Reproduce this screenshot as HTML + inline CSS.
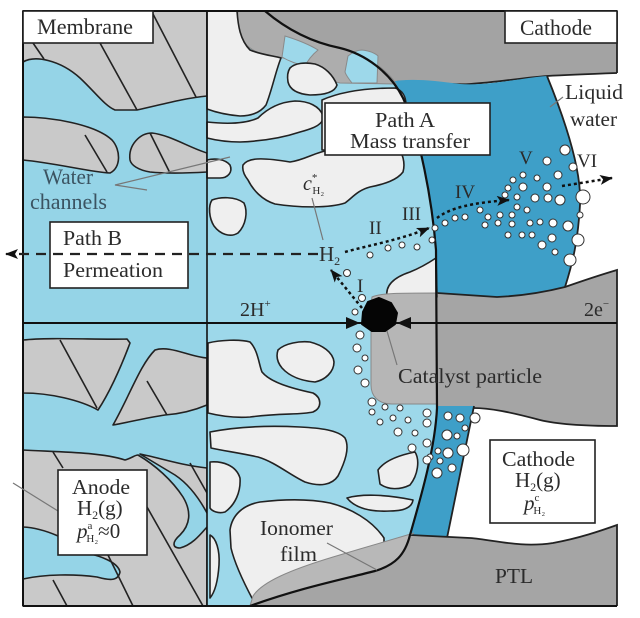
<!DOCTYPE html>
<html><head><meta charset="utf-8"><style>
html,body{margin:0;padding:0;background:#fff;}
svg{display:block;}
text{font-family:"Liberation Serif",serif;fill:#2b2b2b;}
</style></head><body>
<svg width="640" height="618" viewBox="0 0 640 618" xmlns="http://www.w3.org/2000/svg">
<defs>
<marker id="ah" markerWidth="13" markerHeight="10" refX="12" refY="5" orient="auto" markerUnits="userSpaceOnUse"><path d="M0,0 L13,5 L0,10 L3,5 Z" fill="#111"/></marker>
</defs>
<rect width="640" height="618" fill="#fff"/>

<!-- Membrane -->
<rect x="23" y="11" width="184" height="595" fill="#95d4e7"/>
<g fill="#c9c9c9" stroke="#222" stroke-width="1.6" stroke-linejoin="round">
<path d="M23 62 C35 55 60 60 80 78 C95 92 105 106 115 110 L137 110 C160 105 185 98 207 96 L207 11 L23 11 Z"/>
<path d="M23 117 C50 117 95 124 112 140 C121 150 121 168 110 173 C90 172 55 163 23 160 Z"/>
<path d="M130 160 C128 145 140 133 152 133 C170 135 190 148 207 153 L207 172 C190 173 170 174 150 172 C138 170 131 165 130 160 Z"/>
<path d="M23 340 C50 337 100 340 127 339 L130 343 C120 370 108 395 98 410 C80 400 50 393 23 393 Z"/>
<path d="M113 425 C130 395 140 365 155 350 C170 345 190 357 207 358 L207 405 C195 410 180 414 165 415 C145 418 125 423 113 425 Z"/>
<path d="M23 450 C60 452 100 452 125 460 C132 458 135 455 138 455 C155 465 172 480 183 497 C192 512 190 525 180 535 C172 542 172 548 180 548 C192 545 200 535 207 527 L207 606 L23 606 L23 579 C45 574 75 574 97 577 C108 580 118 582 120 572 C118 562 100 556 87 553 C70 540 45 528 23 527 Z"/>
<path d="M140 454 C160 458 180 465 207 468 L207 513 C200 500 190 485 175 475 C160 466 150 460 140 454 Z"/>
</g>
<g stroke="#222" stroke-width="1.6">
<line x1="33" y1="43" x2="44" y2="59"/>
<line x1="100" y1="43" x2="137" y2="110"/>
<line x1="153" y1="14" x2="196" y2="97"/>
<line x1="85" y1="135" x2="107" y2="172"/>
<line x1="150" y1="133" x2="170" y2="173"/>
<line x1="60" y1="340" x2="97" y2="408"/>
<line x1="147" y1="381" x2="167" y2="415"/>
<line x1="53" y1="452" x2="63" y2="468"/>
<line x1="190" y1="463" x2="207" y2="493"/>
<line x1="147" y1="507" x2="203" y2="606"/>
<line x1="107" y1="553" x2="133" y2="606"/>
<line x1="53" y1="580" x2="67" y2="606"/>
</g>

<!-- Cathode-side gray/blue regions -->
<path d="M250 11 L617 11 L617 73 C590 74 565 75 547 76 C520 78 500 82 470 84 C440 86 420 78 380 84 L300 84 L250 40 Z" fill="#a3a3a3"/>
<path d="M617 73 C590 74 565 75 547 76 C520 78 500 82 470 84 C440 86 420 78 388 83" fill="none" stroke="#222" stroke-width="1.8"/>
<path d="M388 82 C410 78 430 80 460 84 C490 86 520 78 547 76 C565 120 582 170 580 205 C578 240 573 262 565 287 C540 292 520 297 497 297 L420 293 Z" fill="#3e9fc8"/>
<path d="M547 76 C565 120 582 170 580 205 C578 240 573 262 565 287" fill="none" stroke="#222" stroke-width="1.8"/>
<path d="M420 293 L497 297 C520 296 545 292 565 287 C585 280 600 275 617 270 L617 426 C590 426 560 425 540 420 C510 412 490 408 473 408 L420 408 Z" fill="#a5a5a5"/>
<path d="M437 293 L497 297 C520 296 545 292 565 287 C585 280 600 275 617 270 L617 426 C590 426 560 425 540 420 C510 412 490 408 473 408" fill="none" stroke="#222" stroke-width="1.8"/>
<path d="M430 406 L474 406 L447 538 L410 535 Z" fill="#3e9fc8"/>
<line x1="474" y1="406" x2="447" y2="538" stroke="#222" stroke-width="1.8"/>
<path d="M400 536 C430 536 450 537 470 538 C495 540 520 548 553 543 C580 538 600 531 617 525 L617 606 L240 606 Z" fill="#a5a5a5"/>
<path d="M410 535 C430 536 450 537 470 538 C495 540 520 548 553 543 C580 538 600 531 617 525 L617 606" fill="none" stroke="#222" stroke-width="1.8"/>
<line x1="617" y1="11" x2="617" y2="73" stroke="#222" stroke-width="1.8"/>

<!-- Catalyst layer -->
<path d="M207 11 L265 11 C285 28 310 42 340 48 C365 54 390 72 403 98 C420 135 432 200 436 250 L437 408 C435 450 420 500 410 535 C405 555 395 565 375 571 C340 580 300 588 250 606 L207 606 Z" fill="#9dd8ea"/>
<path d="M238 11 L265 11 C285 28 310 42 340 48 C365 54 388 70 396 84 L340 83 C325 80 310 72 298 63 C290 58 270 56 257 52 C248 48 240 40 237 30 Z" fill="#adadad" stroke="#8a8a8a" stroke-width="1"/>
<path d="M285 36 C298 40 310 45 318 50 C312 55 308 60 305 66 C298 64 290 62 282 57 C283 50 284 43 285 36 Z" fill="#9dd8ea" stroke="#8a8a8a" stroke-width="1"/>
<path d="M348 56 C353 52 358 50 362 50 C370 51 375 53 378 56 L377 83 L352 83 C348 78 346 75 345 72 Z" fill="#9dd8ea" stroke="#8a8a8a" stroke-width="1"/>
<g fill="#efefef" stroke="#222" stroke-width="1.6" stroke-linejoin="round">
<path d="M207 11 L237 11 C238 25 240 40 250 50 C262 55 275 56 281 58 C276 70 272 90 266 105 C260 113 250 116 240 116 C228 115 215 112 207 109 Z"/>
<path d="M290 68 C295 63 305 62 315 64 C325 67 333 75 337 85 C335 92 325 95 310 95 C298 94 290 90 288 82 C287 76 288 71 290 68 Z"/>
<path d="M207 122 C225 124 245 124 258 118 C268 108 280 102 295 101 C308 101 320 106 323 116 C324 124 315 128 300 132 C285 137 265 141 240 142 C225 142 215 140 207 138 Z"/>
<path d="M322 100 C340 92 365 88 395 88 C402 90 406 96 406 105 L406 150 L322 150 Z"/>
<path d="M243 165 C248 158 260 157 290 162 C305 160 315 152 330 150 L400 150 C404 158 405 165 403 172 C397 180 385 184 370 187 C358 190 352 198 345 203 C330 208 300 208 275 204 C262 200 253 190 248 180 C244 175 242 170 243 165 Z"/>
<path d="M212 200 C220 197 235 196 244 203 C248 212 246 225 238 233 C230 238 220 234 214 226 C209 218 208 206 212 200 Z"/>
<path d="M207 160 C215 158 225 159 230 165 C233 172 228 178 220 178 L207 178 Z"/>
<path d="M387 297 C385 285 395 277 410 272 C420 268 430 262 436 258 L437 297 Z"/>
<path d="M208 343 C220 340 240 339 250 342 C258 350 259 365 262 372 C270 382 290 388 313 393 C322 398 322 408 313 412 C300 415 280 413 250 417 C235 418 220 416 208 413 Z"/>
<path d="M278 350 C285 343 300 341 310 342 C322 345 333 352 334 362 C334 372 325 380 315 382 C303 381 290 377 282 368 C277 362 276 356 278 350 Z"/>
<path d="M210 432 C230 428 260 425 300 427 C320 428 338 430 345 438 C350 448 345 462 338 476 C332 485 320 487 305 482 C290 475 275 462 258 457 C240 453 225 451 211 448 Z"/>
<path d="M210 462 C222 461 236 465 240 478 C241 492 235 505 225 512 C218 514 212 511 210 508 Z"/>
<path d="M210 535 C216 538 220 550 219 565 C218 580 215 592 210 598 Z"/>
<path d="M230 530 C232 515 243 505 260 502 C285 499 310 499 330 503 C350 508 372 520 384 538 L384 560 L253 600 C245 585 235 565 231 548 Z"/>
<path d="M378 470 C385 460 400 455 415 452 C420 460 418 475 410 485 C400 490 388 490 380 484 Z"/>
<path d="M347 498 C360 494 385 494 413 500 C412 507 405 511 390 511 C370 512 355 508 347 498 Z"/>
</g>
<path d="M372 297 C380 293 400 293 437 293 L437 404 L392 404 C378 404 371 396 371 385 L371 305 Z" fill="#b6b6b6" stroke="#888" stroke-width="1"/>
<path d="M253 596 C262 582 290 570 333 557 C360 549 390 540 414 533 L410 535 C405 555 395 565 375 571 C340 580 300 588 250 606 Z" fill="#b8b8b8" stroke="#888" stroke-width="1"/>
<path d="M265 11 C285 28 310 42 340 48 C365 54 390 72 403 98 C420 135 432 200 436 250 L437 408 C435 450 420 500 410 535 C405 555 395 565 375 571 C340 580 300 588 250 606" fill="none" stroke="#111" stroke-width="2.2"/>

<!-- bubbles -->
<g fill="#fff" stroke="#333" stroke-width="1">
<circle cx="565" cy="150" r="5"/><circle cx="547" cy="161" r="4"/><circle cx="573" cy="167" r="4"/><circle cx="523" cy="175" r="3"/><circle cx="537" cy="178" r="3"/><circle cx="558" cy="175" r="4"/><circle cx="513" cy="180" r="3"/><circle cx="547" cy="187" r="4"/><circle cx="523" cy="187" r="4"/><circle cx="508" cy="188" r="3"/><circle cx="583" cy="197" r="7"/><circle cx="560" cy="200" r="5"/><circle cx="548" cy="198" r="4"/><circle cx="535" cy="198" r="4"/><circle cx="517" cy="197" r="3"/><circle cx="505" cy="195" r="3"/><circle cx="480" cy="210" r="3"/><circle cx="488" cy="217" r="3"/><circle cx="500" cy="215" r="3"/><circle cx="517" cy="207" r="3"/><circle cx="527" cy="210" r="3"/><circle cx="512" cy="215" r="3"/><circle cx="530" cy="223" r="3"/><circle cx="540" cy="222" r="3"/><circle cx="553" cy="223" r="4"/><circle cx="568" cy="226" r="5"/><circle cx="580" cy="215" r="3"/><circle cx="498" cy="223" r="3"/><circle cx="512" cy="224" r="3"/><circle cx="485" cy="225" r="3"/><circle cx="445" cy="223" r="3"/><circle cx="455" cy="218" r="3"/><circle cx="465" cy="217" r="3"/><circle cx="435" cy="228" r="3"/><circle cx="432" cy="240" r="3"/><circle cx="508" cy="235" r="3"/><circle cx="522" cy="235" r="3"/><circle cx="532" cy="235" r="3"/><circle cx="542" cy="245" r="4"/><circle cx="552" cy="238" r="4"/><circle cx="578" cy="240" r="6"/><circle cx="555" cy="252" r="3"/><circle cx="570" cy="260" r="6"/>
<circle cx="370" cy="255" r="3"/><circle cx="388" cy="248" r="3"/><circle cx="402" cy="245" r="3"/><circle cx="417" cy="247" r="3"/><circle cx="347" cy="273" r="3.5"/><circle cx="362" cy="298" r="3.5"/>
<circle cx="355" cy="312" r="3"/><circle cx="360" cy="335" r="4"/><circle cx="357" cy="348" r="4"/><circle cx="365" cy="358" r="3"/><circle cx="358" cy="370" r="4"/><circle cx="365" cy="383" r="4"/><circle cx="372" cy="402" r="4"/><circle cx="385" cy="407" r="3"/><circle cx="400" cy="408" r="3"/><circle cx="372" cy="412" r="3"/><circle cx="380" cy="422" r="3"/><circle cx="393" cy="418" r="3"/><circle cx="408" cy="420" r="3"/><circle cx="398" cy="432" r="4"/><circle cx="415" cy="433" r="3"/><circle cx="427" cy="413" r="4"/><circle cx="427" cy="423" r="4"/><circle cx="412" cy="448" r="4"/><circle cx="427" cy="443" r="4"/><circle cx="430" cy="457" r="3"/>
<circle cx="448" cy="416" r="4"/><circle cx="460" cy="418" r="4"/><circle cx="475" cy="418" r="5"/><circle cx="447" cy="435" r="5"/><circle cx="457" cy="436" r="3"/><circle cx="465" cy="428" r="3"/><circle cx="463" cy="450" r="6"/><circle cx="448" cy="453" r="5"/><circle cx="438" cy="451" r="3"/><circle cx="440" cy="461" r="3"/><circle cx="452" cy="468" r="4"/><circle cx="437" cy="473" r="5"/><circle cx="427" cy="460" r="4"/>
</g>

<!-- frame lines -->
<line x1="23" y1="11" x2="617" y2="11" stroke="#111" stroke-width="2"/>
<line x1="23" y1="606" x2="617" y2="606" stroke="#111" stroke-width="2"/>
<line x1="23" y1="11" x2="23" y2="606" stroke="#111" stroke-width="2"/>
<line x1="207" y1="11" x2="207" y2="606" stroke="#111" stroke-width="1.6"/>
<line x1="23" y1="323" x2="617" y2="323" stroke="#111" stroke-width="2"/>
<polygon points="346,317 360,323 346,329" fill="#111"/>
<polygon points="411,317 397,323 411,329" fill="#111"/>
<path d="M363 312 L368 302 L379 298 L391 303 L397 313 L395 324 L385 331 L372 331 L362 324 Z" fill="#050505" stroke="#050505" stroke-width="2" stroke-linejoin="round"/>

<!-- leader lines -->
<g stroke="#777" stroke-width="1.2" fill="none">
<polyline points="147,190 115,185 230,157"/>
<line x1="312" y1="198" x2="323" y2="240"/>
<line x1="550" y1="107" x2="563" y2="97"/>
<line x1="387" y1="331" x2="397" y2="365"/>
<line x1="327" y1="543" x2="377" y2="570"/>
<line x1="13" y1="483" x2="58" y2="511"/>
</g>

<!-- boxes -->
<g fill="#fff" stroke="#222" stroke-width="1.6">
<rect x="23" y="11" width="130" height="32"/>
<rect x="505" y="11" width="112" height="32"/>
<rect x="50" y="222" width="138" height="66"/>
<rect x="325" y="103" width="165" height="52"/>
<rect x="58" y="470" width="89" height="85"/>
<rect x="490" y="440" width="105" height="83"/>
</g>

<!-- dashed / dotted arrows -->
<path d="M318 254 L6 254" stroke="#222" stroke-width="2.2" stroke-dasharray="10 7" fill="none" marker-end="url(#ah)"/>
<g stroke="#111" stroke-width="2.5" stroke-dasharray="3 3" fill="none" marker-end="url(#ah)">
<path d="M362 308 L331 270"/>
<path d="M345 252 C370 245 400 240 429 228"/>
<path d="M437 218 C450 208 470 203 509 200"/>
<path d="M562 186 L612 178"/>
</g>

<!-- text -->
<text x="37" y="34" font-size="22" textLength="96" lengthAdjust="spacingAndGlyphs">Membrane</text>
<text x="520" y="35" font-size="22" textLength="72" lengthAdjust="spacingAndGlyphs">Cathode</text>
<text x="43" y="184" font-size="22" textLength="50" lengthAdjust="spacingAndGlyphs" style="fill:#3b5361">Water</text>
<text x="30" y="209" font-size="22" textLength="77" lengthAdjust="spacingAndGlyphs" style="fill:#3b5361">channels</text>
<text x="63" y="245" font-size="21" textLength="59" lengthAdjust="spacingAndGlyphs">Path B</text>
<text x="63" y="277" font-size="21" textLength="100" lengthAdjust="spacingAndGlyphs">Permeation</text>
<text x="375" y="127" font-size="21" textLength="60" lengthAdjust="spacingAndGlyphs">Path A</text>
<text x="350" y="148" font-size="21" textLength="120" lengthAdjust="spacingAndGlyphs">Mass transfer</text>
<text x="565" y="99" font-size="21" textLength="58" lengthAdjust="spacingAndGlyphs">Liquid</text>
<text x="570" y="126" font-size="21" textLength="47" lengthAdjust="spacingAndGlyphs">water</text>
<text x="398" y="383" font-size="21" textLength="144" lengthAdjust="spacingAndGlyphs">Catalyst particle</text>
<text x="502" y="466" font-size="21" textLength="73" lengthAdjust="spacingAndGlyphs">Cathode</text>
<text x="515" y="487" font-size="21">H<tspan font-size="12" dy="4">2</tspan><tspan dy="-4">(g)</tspan></text>
<text x="524" y="510" font-size="21"><tspan font-style="italic">p</tspan><tspan font-size="11" dy="-9">c</tspan><tspan font-size="11" dx="-6" dy="13">H₂</tspan></text>
<text x="72" y="494" font-size="21" textLength="58" lengthAdjust="spacingAndGlyphs">Anode</text>
<text x="77" y="515" font-size="21">H<tspan font-size="12" dy="4">2</tspan><tspan dy="-4">(g)</tspan></text>
<text x="77" y="538" font-size="21"><tspan font-style="italic">p</tspan><tspan font-size="11" dy="-9">a</tspan><tspan font-size="11" dx="-6" dy="13">H₂</tspan><tspan dy="-4">≈0</tspan></text>
<text x="260" y="535" font-size="21" textLength="73" lengthAdjust="spacingAndGlyphs">Ionomer</text>
<text x="280" y="561" font-size="21" textLength="37" lengthAdjust="spacingAndGlyphs">film</text>
<text x="495" y="583" font-size="21" textLength="38" lengthAdjust="spacingAndGlyphs">PTL</text>
<text x="319" y="261" font-size="21">H<tspan font-size="12" dy="4">2</tspan></text>
<text x="240" y="316" font-size="20">2H<tspan font-size="11" dy="-9">+</tspan></text>
<text x="584" y="316" font-size="20">2e<tspan font-size="11" dy="-9">−</tspan></text>
<text x="303" y="190" font-size="20"><tspan font-style="italic">c</tspan><tspan font-size="11" dy="-9">*</tspan><tspan font-size="11" dx="-5" dy="13">H₂</tspan></text>
<g font-size="19">
<text x="357" y="292">I</text>
<text x="369" y="234">II</text>
<text x="402" y="220">III</text>
<text x="455" y="198">IV</text>
<text x="519" y="164">V</text>
<text x="577" y="167">VI</text>
</g>
</svg>
</body></html>
